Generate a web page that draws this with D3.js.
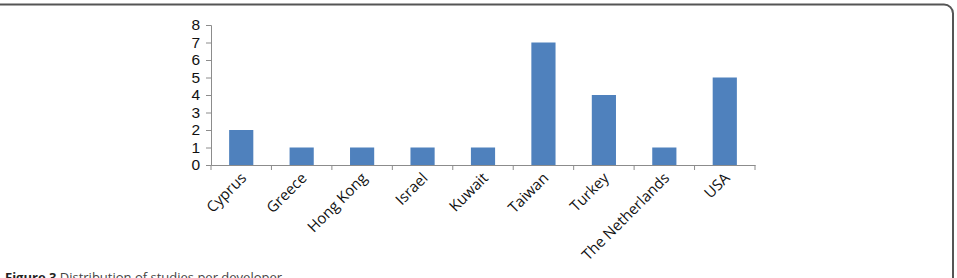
<!DOCTYPE html>
<html><head><meta charset="utf-8">
<script src="https://cdn.jsdelivr.net/npm/d3@7"></script>
<style>body{margin:0;background:#fff}svg{display:block}</style>
</head><body>
<script>
const categories = ["Cyprus","Greece","Hong Kong","Israel","Kuwait","Taiwan","Turkey","The Netherlands","USA"];
const values = [2,1,1,1,1,7,4,1,5];
const yTicks = [0,1,2,3,4,5,6,7,8];

const W = 957, H = 278;
const svg = d3.select("body").append("svg").attr("width", W).attr("height", H);

// frame
svg.append("path")
  .attr("d", "M-10,4.5 H944 A9,9 0 0 1 953,13.5 V300")
  .attr("fill","none").attr("stroke","#555").attr("stroke-width",2);

const x = d3.scaleBand().domain(categories).range([211, 755]).paddingInner(0).paddingOuter(0);
const y = d3.scaleLinear().domain([0, 8]).range([165, 25]);

const bw = x.bandwidth() * 0.4;
svg.selectAll("rect.bar").data(categories).enter().append("rect")
  .attr("x", d => x(d) + (x.bandwidth() - bw) / 2)
  .attr("y", (d, i) => y(values[i]))
  .attr("width", bw)
  .attr("height", (d, i) => y(0) - y(values[i]))
  .attr("fill", "#4F81BD");

// y axis
const yAxis = svg.append("g").attr("transform", "translate(211,0)")
  .call(d3.axisLeft(y).tickValues(yTicks).tickSize(5).tickPadding(6));
yAxis.select(".domain").attr("stroke", "#8c8c8c");
yAxis.selectAll(".tick line").attr("stroke", "#8c8c8c");
yAxis.selectAll("text").attr("font-family", "Liberation Sans, Arial, sans-serif")
  .attr("font-size", 15.5).attr("fill", "#111");

// x axis
const xAxis = svg.append("g").attr("transform", "translate(0,165)")
  .call(d3.axisBottom(x).tickSize(0).tickFormat(""));
xAxis.select(".domain").attr("stroke", "#8c8c8c");
const edges = categories.map(d => x(d)).concat([x.range()[1]]);
xAxis.selectAll("line.edge").data(edges).enter().append("line")
  .attr("x1", d => d).attr("x2", d => d).attr("y1", 0).attr("y2", 5)
  .attr("stroke", "#8c8c8c");

svg.selectAll("text.xl").data(categories).enter().append("text")
  .attr("transform", d => `translate(${x(d) + x.bandwidth() / 2 + 6},179) rotate(-45)`)
  .attr("text-anchor", "end")
  .attr("font-family", "Open Sans, Lato, sans-serif")
  .attr("font-size", 15).attr("fill", "#111")
  .text(d => d);

// caption (clipped at bottom, as in the reference)
const cap = svg.append("text").attr("x", 5).attr("y", 282)
  .attr("font-family", "Open Sans, Liberation Sans, sans-serif").attr("font-size", 13).attr("fill", "#444");
cap.append("tspan").attr("font-weight", "bold").attr("fill", "#222").text("Figure 3 ");
cap.append("tspan").text("Distribution of studies per developer");
</script>
</body></html>
